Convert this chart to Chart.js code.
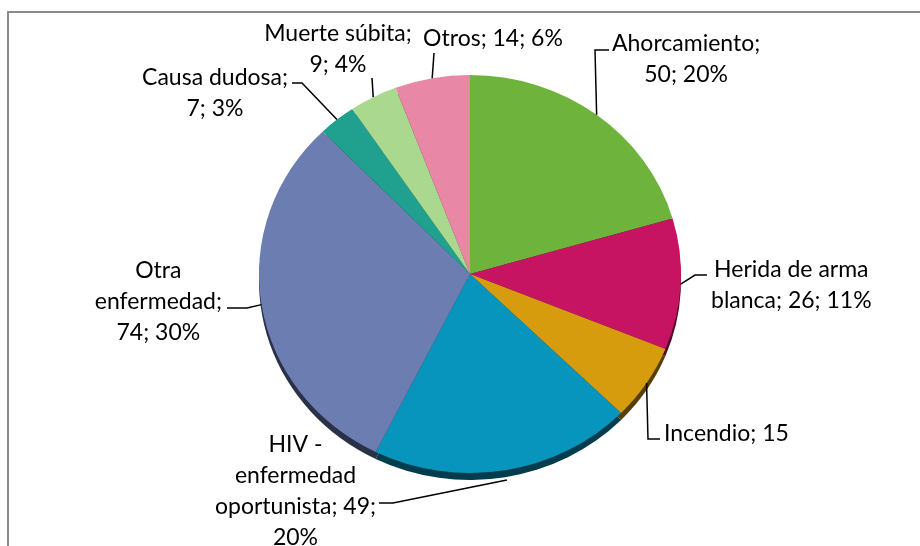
<!DOCTYPE html>
<html>
<head>
<meta charset="utf-8">
<script src="https://cdn.jsdelivr.net/npm/chart.js@4.4.1/dist/chart.umd.min.js"></script>
<style>
    html, body { margin: 0; padding: 0; background: #fff; }
    #wrap { width: 920px; height: 546px; position: relative; }
</style>
</head>
<body>
<div id="wrap"><canvas id="pieChart" width="920" height="546"></canvas></div>
<script>
// Datos
const categories = ['Ahorcamiento', 'Herida de arma blanca', 'Incendio', 'HIV - enfermedad oportunista',
    'Otra enfermedad', 'Causa dudosa', 'Muerte súbita', 'Otros'];
const values = [50, 26, 15, 49, 74, 7, 9, 14];
const labelLines = [
    ['Ahorcamiento;', '50; 20%'],
    ['Herida de arma', 'blanca; 26; 11%'],
    ['Incendio; 15'],
    ['HIV -', 'enfermedad', 'oportunista; 49;', '20%'],
    ['Otra', 'enfermedad;', '74; 30%'],
    ['Causa dudosa;', '7; 3%'],
    ['Muerte súbita;', '9; 4%'],
    ['Otros; 14; 6%']
];
const colors = ['#6eb33b', '#c61462', '#d69c0e', '#0895bd', '#6b7db1', '#20a18f', '#a9d88e', '#e888a6'];

// Posicion de las etiquetas (bloque de texto) y codos de las lineas guia
const labelLayout = [
    { align: 'left', x: 612, y: 51, pts: [[595, 50], [609, 50]] },
    { align: 'left', x: 711, y: 277, pts: [[695, 275], [707, 275]] },
    { align: 'left', x: 664, y: 441, pts: [[648, 439], [660, 439]] },
    { align: 'right', x: 376, y: 452, rf: 1.05, pts: [[393, 503], [379, 503]] },
    { align: 'right', x: 222, y: 278, pts: [[247, 308], [227, 308]] },
    { align: 'right', x: 288, y: 85, pts: [[302, 83], [292, 83]] },
    { align: 'center', x: 338, y: 41, pts: [[372, 78]] },
    { align: 'center', x: 493, y: 46, pts: [[434, 53]] }
];
const stretchX = 211 / 199;
const lineHeight = 31;
const labelFont = '23px Lato';

function darken(hex, f) {
    const n = parseInt(hex.slice(1), 16);
    const r = Math.round(((n >> 16) & 255) * f);
    const g = Math.round(((n >> 8) & 255) * f);
    const b = Math.round((n & 255) * f);
    return 'rgb(' + r + ',' + g + ',' + b + ')';
}

// Marco gris
const framePlugin = {
    id: 'frame',
    beforeDraw(chart) {
        const ctx = chart.ctx;
        ctx.save();
        ctx.strokeStyle = '#8a8a8a';
        ctx.lineWidth = 2;
        ctx.strokeRect(8, 12, 1000, 700);
        ctx.restore();
    }
};

// Pie eliptico con borde inferior oscuro (efecto 3D)
const ellipsePlugin = {
    id: 'ellipse',
    beforeDatasetsDraw(chart) {
        const ctx = chart.ctx;
        const arcs = chart.getDatasetMeta(0).data;
        const cx = arcs[0].x, cy = arcs[0].y;
        ctx.save();
        ctx.translate(cx, cy);
        ctx.scale(stretchX, 1);
        ctx.translate(-cx, -cy);
        arcs.forEach((el, i) => {
            ctx.beginPath();
            ctx.moveTo(el.x, el.y + 7);
            ctx.arc(el.x, el.y + 7, el.outerRadius, el.startAngle, el.endAngle);
            ctx.closePath();
            ctx.fillStyle = darken(colors[i], 0.4);
            ctx.fill();
        });
    },
    afterDatasetsDraw(chart) {
        chart.ctx.restore();
    }
};

// Etiquetas con lineas guia
const labelPlugin = {
    id: 'outLabels',
    afterDraw(chart) {
        const ctx = chart.ctx;
        const arcs = chart.getDatasetMeta(0).data;
        ctx.save();
        ctx.font = labelFont;
        ctx.fillStyle = '#000';
        ctx.strokeStyle = '#000';
        ctx.lineWidth = 1.5;
        arcs.forEach((el, i) => {
            const lay = labelLayout[i];
            const mid = (el.startAngle + el.endAngle) / 2;
            const rf = lay.rf || 1;
            const ax = el.x + Math.cos(mid) * el.outerRadius * stretchX * rf;
            const ay = el.y + Math.sin(mid) * el.outerRadius * rf;
            ctx.beginPath();
            ctx.moveTo(ax, ay);
            lay.pts.forEach(p => ctx.lineTo(p[0], p[1]));
            ctx.stroke();

            const lines = labelLines[i];
            const w = Math.max(...lines.map(t => ctx.measureText(t).width));
            let cxText = lay.x;
            if (lay.align === 'left') cxText = lay.x + w / 2;
            if (lay.align === 'right') cxText = lay.x - w / 2;
            ctx.textAlign = 'center';
            ctx.textBaseline = 'alphabetic';
            lines.forEach((t, k) => ctx.fillText(t, cxText, lay.y + k * lineHeight));
        });
        ctx.restore();
    }
};

const pieChart = new Chart(document.getElementById('pieChart').getContext('2d'), {
    type: 'pie',
    data: {
        labels: categories,
        datasets: [{
            data: values,
            backgroundColor: colors,
            borderWidth: 0,
            hoverOffset: 0
        }]
    },
    options: {
        responsive: false,
        animation: false,
        events: [],
        layout: {
            padding: { top: 75, bottom: 73, left: 271, right: 251 }
        },
        plugins: {
            legend: { display: false },
            tooltip: { enabled: false }
        }
    },
    plugins: [framePlugin, ellipsePlugin, labelPlugin]
});
</script>
</body>
</html>
